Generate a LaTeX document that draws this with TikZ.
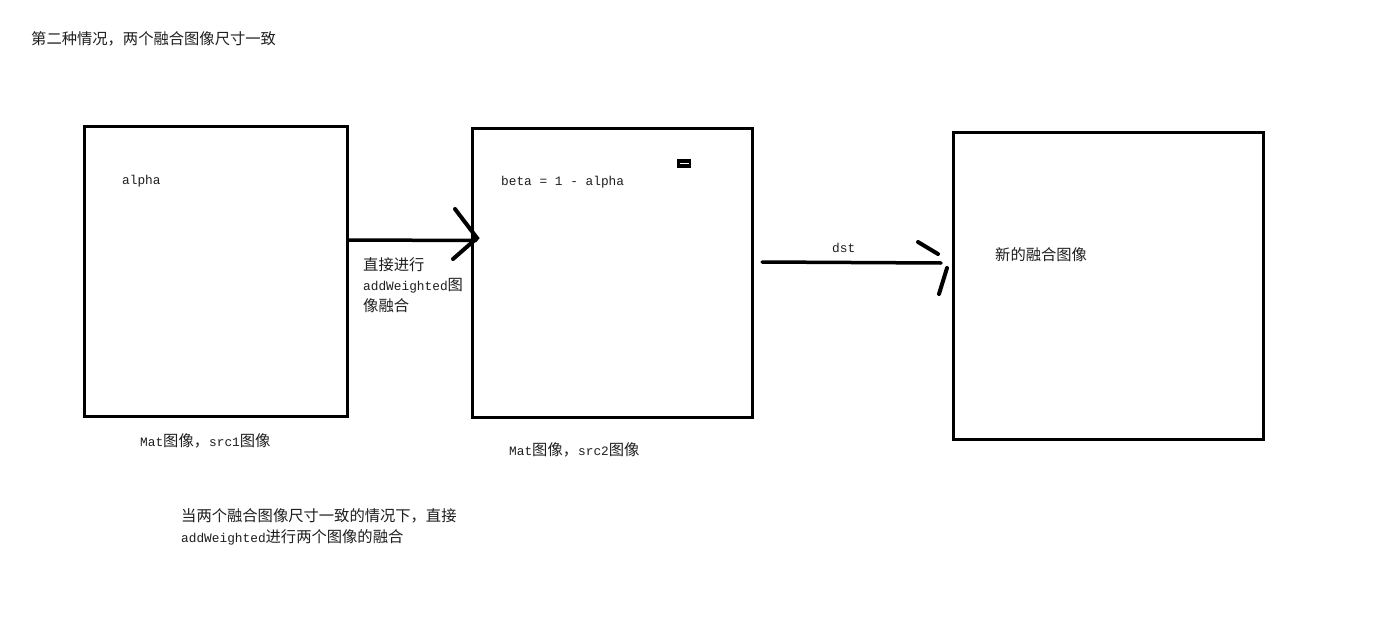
\documentclass[tikz,border=0pt]{standalone}
\usepackage{fontspec}
\setmainfont{Liberation Mono}
\newfontfamily\cjk{Noto Sans CJK SC}
\newcommand{\zh}[1]{{\cjk\fontsize{15.3}{20}\selectfont #1}}
\definecolor{txt}{HTML}{1E1E1E}
\begin{document}
\begin{tikzpicture}[x=1pt,y=-1pt,
  box/.style={draw=black, line width=3pt, inner sep=0pt},
  lbl/.style={anchor=west, inner sep=0pt, text=txt, font=\fontsize{12.8}{20}\selectfont, align=left},
  conn/.style={line width=3.5pt, line cap=round},
  headstroke/.style={line width=4pt, line cap=round}]
\useasboundingbox[fill=white] (0,0) rectangle (1377,618);

% title
\node[lbl] (title) at (31,39) {\zh{第二种情况，两个融合图像尺寸一致}};

% boxes
\node[box, minimum width=263, minimum height=290] (b1) at (216,271.5) {};
\node[box, minimum width=280, minimum height=289] (b2) at (612.5,273) {};
\node[box, minimum width=310, minimum height=307] (b3) at (1108.5,286) {};

% small mark in box 2
\node[fill=black, minimum width=14, minimum height=9, inner sep=0pt] (mark) at (684,163.5) {};
\draw[white, line width=1.5pt] ([xshift=-4.5pt]mark.center) -- ([xshift=4.5pt]mark.center);

% texts inside boxes
\node[lbl] (alpha) at (122,181) {alpha};
\node[lbl] (beta) at (501,182) {beta = 1 - alpha};
\node[lbl] (newimg) at (995,255) {\zh{新的融合图像}};

% labels below boxes
\node[lbl] (l1) at (140,441) {Mat\zh{图像，}src1\zh{图像}};
\node[lbl] (l2) at (509,450) {Mat\zh{图像，}src2\zh{图像}};

% arrow 1
\coordinate (a1s) at (b1.east |- 0,240);
\coordinate (a1e) at (476,240.5);
\draw[conn] (a1s) -- (a1e);
\coordinate (h1a) at (455,209);
\coordinate (h1b) at (477,238);
\coordinate (h1c) at (453,259);
\draw[headstroke] (h1a) -- (h1b) -- (h1c);
\node[lbl, anchor=north west, font=\fontsize{12.8}{20.5}\selectfont] (t1) at (363,257) {\zh{直接进行}\\addWeighted\zh{图}\\\zh{像融合}};

% arrow 2
\coordinate (a2s) at (762,262);
\coordinate (a2e) at (941,263);
\draw[conn] (a2s) -- (a2e);
\coordinate (h2a) at (918,242);
\coordinate (h2b) at (938,254);
\coordinate (h2c) at (947,268);
\coordinate (h2d) at (939,294);
\draw[headstroke] (h2a) -- (h2b);
\draw[headstroke] (h2c) -- (h2d);
\node[lbl] (dst) at (832,248) {dst};

% bottom note
\node[lbl, anchor=north west, font=\fontsize{12.8}{21.5}\selectfont] (note) at (181,508) {\zh{当两个融合图像尺寸一致的情况下，直接}\\addWeighted\zh{进行两个图像的融合}};
\end{tikzpicture}
\end{document}
